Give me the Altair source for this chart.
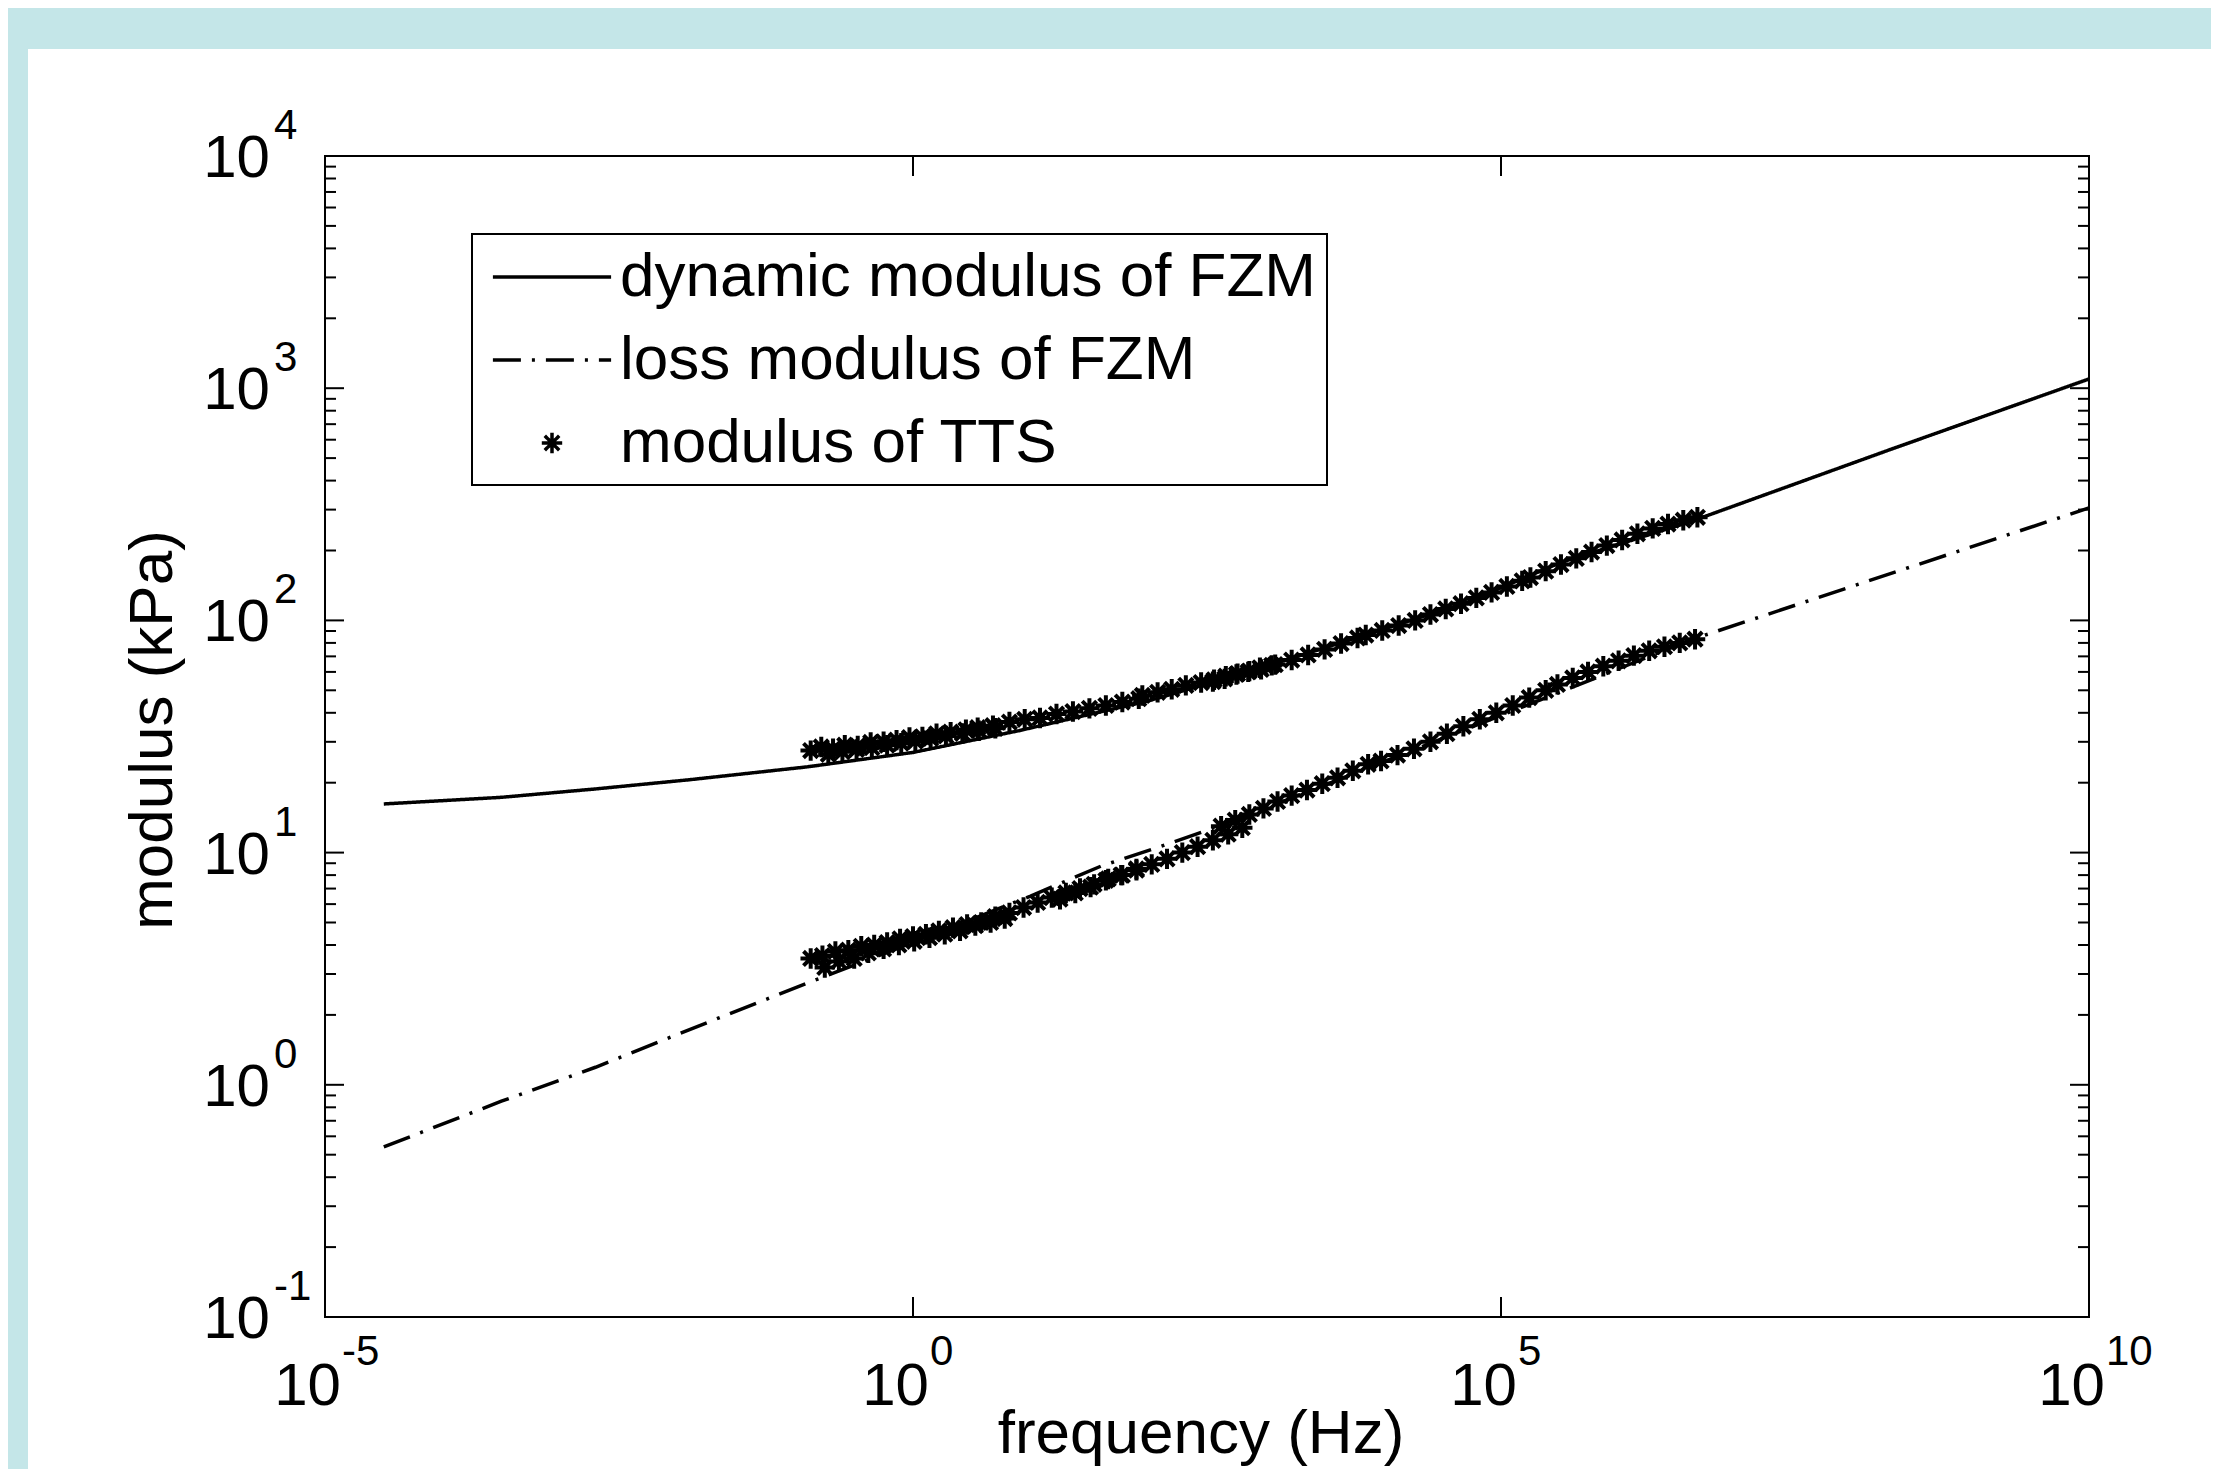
import altair as alt
import pandas as pd

# ---------------- data ----------------
x_domain = [1e-5, 1e10]
y_domain = [1e-1, 1e4]

series_names = ["dynamic modulus of FZM", "loss modulus of FZM", "modulus of TTS"]
x_title = "frequency (Hz)"
y_title = "modulus (kPa)"

# FZM dynamic modulus (solid line): log10 frequency, modulus kPa
dyn_log_f = [-4.5, -3.5, -2.7, -1.9, -0.9, 0.0, 0.9, 2.0, 2.9, 3.7, 4.7, 5.5, 6.6, 8.3, 10.0]
dyn_mod = [16.2, 17.3, 18.8, 20.6, 23.4, 27.0, 33.5, 45.0, 61.0, 82.0, 119, 177, 265, 542, 1096]

# FZM loss modulus (dash-dot line)
loss_log_f = [-4.5, -3.5, -2.7, -1.9, -0.9, 0.0, 1.0, 1.6, 2.1, 2.6, 3.5, 4.5, 5.5, 6.6, 8.0, 10.0]
loss_mod = [0.54, 0.85, 1.19, 1.73, 2.74, 4.1, 6.5, 8.75, 10.6, 13.0, 19.5, 31, 49, 82, 141, 305]

# TTS master-curve points, upper branch
tts_up_log_f = [-0.87, -0.78, -0.68, -0.58, -0.47, -0.36, -0.25, -0.14, -0.03, 0.08, 0.20, 0.32, 0.45,
                -0.72, -0.60, -0.48, -0.35, -0.22, -0.10, 0.02, 0.15, 0.28, 0.42, 0.56, 0.70,
                0.55, 0.68, 0.82, 0.95, 1.08, 1.22, 1.36, 1.50, 1.64, 1.78, 1.92,
                1.95, 2.08, 2.20, 2.32, 2.45, 2.56, 2.66, 2.76, 2.86, 2.95, 3.05,
                2.55, 2.65, 2.75, 2.85, 2.96, 3.08, 3.22, 3.36, 3.50, 3.64, 3.78,
                3.85, 3.99, 4.13, 4.27, 4.40, 4.53, 4.66, 4.79, 4.92, 5.05, 5.18,
                5.25, 5.38, 5.51, 5.64, 5.77, 5.90, 6.03, 6.16, 6.29, 6.42, 6.55, 6.67]
tts_up_mod = [27.5, 28.5, 28.0, 29.0, 28.8, 29.8, 30.0, 30.5, 31.3, 31.5, 32.5, 33.0, 33.8,
              26.5, 27.2, 27.8, 28.3, 29.0, 29.6, 30.2, 31.0, 31.8, 32.6, 33.5, 34.3,
              34.5, 35.2, 36.5, 37.5, 38.0, 39.5, 40.5, 41.8, 43.0, 44.5, 46.0,
              47.5, 49.0, 50.5, 52.5, 54.0, 55.5, 57.5, 59.0, 60.5, 62.5, 64.0,
              54.5, 56.0, 58.5, 60.0, 61.5, 64.5, 67.5, 71.0, 75.0, 79.5, 84.0,
              86.5, 90.5, 95.0, 100, 106, 112, 118, 125, 132, 140, 148,
              153, 163, 174, 185, 197, 210, 222, 236, 249, 260, 270, 278]

# TTS master-curve points, lower branch
tts_lo_log_f = [-0.87, -0.77, -0.66, -0.55, -0.44, -0.33, -0.22, -0.11, 0.00, 0.11, 0.22, 0.34, 0.46,
                -0.75, -0.63, -0.50, -0.38, -0.25, -0.12, 0.01, 0.14, 0.27, 0.40, 0.53, 0.66, 0.78,
                0.58, 0.70, 0.82, 0.94, 1.06, 1.18, 1.30, 1.42, 1.54, 1.66, 1.78, 1.90,
                1.25, 1.38, 1.51, 1.64, 1.77, 1.90, 2.03, 2.16, 2.29, 2.42, 2.55, 2.68, 2.80,
                2.62, 2.74, 2.86, 2.98, 3.10, 3.22, 3.35, 3.48, 3.61, 3.74, 3.87,
                3.98, 4.12, 4.26, 4.40, 4.54, 4.68, 4.82, 4.96, 5.10, 5.24, 5.38,
                5.48, 5.61, 5.74, 5.87, 6.00, 6.13, 6.26, 6.39, 6.52, 6.65]
tts_lo_mod = [3.5, 3.6, 3.75, 3.8, 3.95, 4.0, 4.1, 4.25, 4.35, 4.45, 4.6, 4.75, 4.9,
              3.2, 3.4, 3.5, 3.7, 3.85, 4.0, 4.15, 4.3, 4.45, 4.6, 4.85, 5.0, 5.2,
              5.0, 5.3, 5.5, 5.8, 6.1, 6.4, 6.7, 7.0, 7.3, 7.7, 8.0, 8.4,
              6.3, 6.7, 7.1, 7.6, 8.0, 8.5, 8.9, 9.4, 10.0, 10.6, 11.3, 12.0, 12.8,
              13.0, 13.8, 14.6, 15.5, 16.6, 17.6, 18.6, 19.8, 21.0, 22.5, 24.0,
              24.8, 26.3, 28.0, 30.0, 32.5, 35.0, 37.5, 40.0, 43.0, 46.5, 50.0,
              53.0, 56.5, 60.0, 63.5, 67.0, 70.5, 74.0, 77.0, 80.0, 83.0]

# axis tick decades
x_tick_exp = [-5, 0, 5, 10]
x_tick_text = ["-5", "0", "5", "10"]
y_tick_exp = [-1, 0, 1, 2, 3, 4]
y_tick_text = ["-1", "0", "1", "2", "3", "4"]
y_minor_mult = [2, 3, 4, 5, 6, 7, 8, 9]

# ---------------- tables ----------------
lines_df = pd.DataFrame({
    "freq": [10 ** v for v in dyn_log_f] + [10 ** v for v in loss_log_f],
    "modulus": dyn_mod + loss_mod,
    "series": [series_names[0]] * len(dyn_mod) + [series_names[1]] * len(loss_mod),
})
tts_df = pd.DataFrame({
    "freq": [10 ** v for v in tts_up_log_f + tts_lo_log_f],
    "modulus": tts_up_mod + tts_lo_mod,
    "series": series_names[2],
})
x_ticks_df = pd.DataFrame({"v": [10.0 ** e for e in x_tick_exp], "exp": x_tick_text})
y_ticks_df = pd.DataFrame({"v": [10.0 ** e for e in y_tick_exp], "exp": y_tick_text})
y_minor_df = pd.DataFrame({"v": [m * 10.0 ** e for e in y_tick_exp[:-1] for m in y_minor_mult]})
one_df = pd.DataFrame({"a": [0]})

# ---------------- styling ----------------
W, H = 1764, 1161
FONT = "Liberation Sans"
BG = "#C4E6E8"
FS = 60
FS_LEG = 62
FS_EXP = 42
SYM = 3600  # symbol area -> unit path scaled by sqrt(SYM)/2 = 30 px
STAR = ("M0,-0.34L0,0.34M-0.34,0L0.34,0"
        "M-0.24,-0.24L0.24,0.24M-0.24,0.24L0.24,-0.24")
LINE_SYM = "M-1.97,0L1.97,0"

xs = alt.Scale(type="log", domain=x_domain, nice=False)
ys = alt.Scale(type="log", domain=y_domain, nice=False)
dash_scale = alt.Scale(domain=series_names, range=[[1, 0], [28, 11, 3, 11], [1, 0]])
shape_scale = alt.Scale(domain=series_names, range=[LINE_SYM, LINE_SYM, STAR])


def make_legend():
    return alt.Legend(
        title=None, orient="none", legendX=147, legendY=78,
        fillColor="white", strokeColor="black", padding=11,
        rowPadding=20, labelOffset=36, symbolOffset=37,
        labelFont=FONT, labelFontSize=FS_LEG, labelColor="black", labelLimit=1200,
        symbolSize=SYM, symbolStrokeColor="black", symbolStrokeWidth=3.5,
    )


panel = alt.Chart(one_df).mark_rect(color="white").encode(
    x=alt.value(-297), x2=alt.value(W + 300), y=alt.value(-107), y2=alt.value(H + 300)
)

lines = alt.Chart(lines_df).mark_line(color="black", strokeWidth=3.5).encode(
    x=alt.X("freq:Q", scale=xs, axis=None),
    y=alt.Y("modulus:Q", scale=ys, axis=None),
    strokeDash=alt.StrokeDash("series:N", scale=dash_scale, legend=make_legend()),
)

points = alt.Chart(tts_df).mark_point(
    filled=False, color="black", strokeWidth=4, size=SYM, opacity=1
).encode(
    x=alt.X("freq:Q", scale=xs, axis=None),
    y=alt.Y("modulus:Q", scale=ys, axis=None),
    shape=alt.Shape("series:N", scale=shape_scale, legend=make_legend()),
)

tick_style = dict(color="black", strokeWidth=2)
y_major_l = alt.Chart(y_ticks_df).mark_rule(**tick_style).encode(
    y=alt.Y("v:Q", scale=ys, axis=None), x=alt.value(0), x2=alt.value(19))
y_major_r = alt.Chart(y_ticks_df).mark_rule(**tick_style).encode(
    y=alt.Y("v:Q", scale=ys, axis=None), x=alt.value(W - 19), x2=alt.value(W))
y_minor_l = alt.Chart(y_minor_df).mark_rule(**tick_style).encode(
    y=alt.Y("v:Q", scale=ys, axis=None), x=alt.value(0), x2=alt.value(11))
y_minor_r = alt.Chart(y_minor_df).mark_rule(**tick_style).encode(
    y=alt.Y("v:Q", scale=ys, axis=None), x=alt.value(W - 11), x2=alt.value(W))
x_major_b = alt.Chart(x_ticks_df).mark_rule(**tick_style).encode(
    x=alt.X("v:Q", scale=xs, axis=None), y=alt.value(H - 20), y2=alt.value(H))
x_major_t = alt.Chart(x_ticks_df).mark_rule(**tick_style).encode(
    x=alt.X("v:Q", scale=xs, axis=None), y=alt.value(0), y2=alt.value(20))

x_lab_base = alt.Chart(x_ticks_df).mark_text(
    text="10", font=FONT, fontSize=FS, color="black", align="right", baseline="alphabetic", dx=16
).encode(x=alt.X("v:Q", scale=xs, axis=None), y=alt.value(H + 88))
x_lab_exp = alt.Chart(x_ticks_df).mark_text(
    font=FONT, fontSize=FS_EXP, color="black", align="left", baseline="alphabetic", dx=17
).encode(x=alt.X("v:Q", scale=xs, axis=None), y=alt.value(H + 48), text="exp:N")

y_lab_base = alt.Chart(y_ticks_df).mark_text(
    text="10", font=FONT, fontSize=FS, color="black", align="right", baseline="alphabetic", dy=21
).encode(y=alt.Y("v:Q", scale=ys, axis=None), x=alt.value(-55))
y_lab_exp = alt.Chart(y_ticks_df).mark_text(
    font=FONT, fontSize=FS_EXP, color="black", align="left", baseline="alphabetic", dy=-17
).encode(y=alt.Y("v:Q", scale=ys, axis=None), x=alt.value(-51), text="exp:N")

x_title_mark = alt.Chart(one_df).mark_text(
    text=x_title, font=FONT, fontSize=FS_LEG, color="black", align="center", baseline="alphabetic"
).encode(x=alt.value(876), y=alt.value(H + 136))
y_title_mark = alt.Chart(one_df).mark_text(
    text=y_title, font=FONT, fontSize=FS_LEG, color="black", align="center", baseline="alphabetic",
    angle=270
).encode(x=alt.value(-153), y=alt.value(574))

frame = alt.Chart(one_df).mark_rect(fillOpacity=0, stroke="black", strokeWidth=2).encode(
    x=alt.value(0), x2=alt.value(W), y=alt.value(0), y2=alt.value(H)
)

chart = alt.layer(
    panel, lines, points,
    y_major_l, y_major_r, y_minor_l, y_minor_r, x_major_b, x_major_t,
    x_lab_base, x_lab_exp, y_lab_base, y_lab_exp, x_title_mark, y_title_mark, frame,
).properties(
    width=W, height=H,
    padding={"left": 317, "top": 148, "right": 122, "bottom": 152},
    autosize=alt.AutoSizeParams(type="none"),
    background=BG,
).configure_view(strokeWidth=0).configure(font=FONT).configure_legend(strokeWidth=2)

chart.save("out.html", embed_options={"renderer": "svg", "actions": False})
